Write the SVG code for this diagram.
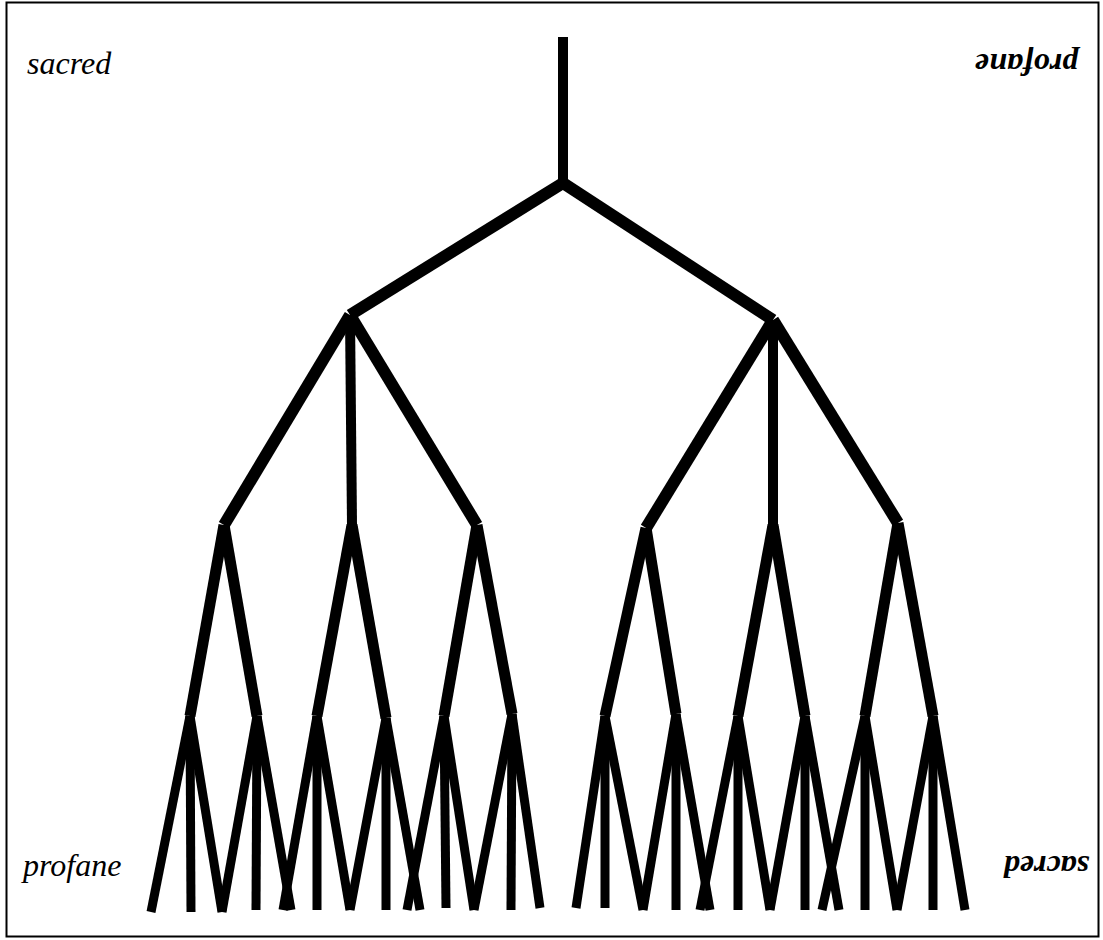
<svg xmlns="http://www.w3.org/2000/svg" width="1103" height="940" viewBox="0 0 1103 940">
<style>
.l{stroke:#000;stroke-linecap:butt;fill:none}
.w10{stroke-width:10}
.w12{stroke-width:12}
.w11{stroke-width:11}
.t4{stroke-width:9}
.lab{font-family:"Liberation Serif","Times New Roman",serif;font-style:italic;font-size:32px;fill:#000}
</style>
<rect x="6.5" y="2.5" width="1092" height="934" fill="#fff" stroke="#000" stroke-width="2"/>
<g id="label-sacred-tl"><text class="lab" x="27" y="74">sacred</text></g>
<g id="label-profane-tr"><text class="lab" font-weight="bold" transform="translate(1078,54) rotate(180)" x="0" y="0">profane</text></g>
<g id="label-profane-bl"><text class="lab" x="23" y="876">profane</text></g>
<g id="label-sacred-br"><text class="lab" font-weight="bold" transform="translate(1089,856) rotate(180)" x="0" y="0">sacred</text></g>
<g id="connectors">
<g class="l w10">
<line x1="563" y1="37" x2="563" y2="183"/>
<line x1="350" y1="315" x2="352" y2="525"/>
<line x1="773" y1="320" x2="773" y2="525"/>
</g>
<g class="l w12">
<line x1="563" y1="183" x2="350" y2="315"/>
<line x1="563" y1="183" x2="773" y2="320"/>
<line x1="350" y1="315" x2="224" y2="525"/>
<line x1="350" y1="315" x2="477" y2="525"/>
<line x1="773" y1="320" x2="646" y2="528"/>
<line x1="773" y1="320" x2="898" y2="523"/>
</g>
<g class="l w11">
<line x1="224" y1="525" x2="190" y2="716"/>
<line x1="224" y1="525" x2="257" y2="716"/>
<line x1="352" y1="525" x2="317" y2="716"/>
<line x1="352" y1="525" x2="386" y2="718"/>
<line x1="477" y1="525" x2="444" y2="716"/>
<line x1="477" y1="525" x2="512" y2="714"/>
<line x1="646" y1="528" x2="605" y2="716"/>
<line x1="646" y1="528" x2="676" y2="714"/>
<line x1="773" y1="525" x2="738" y2="716"/>
<line x1="773" y1="525" x2="805" y2="716"/>
<line x1="898" y1="523" x2="865" y2="716"/>
<line x1="898" y1="523" x2="933" y2="716"/>
</g>
<g class="l t4">
<line x1="190" y1="716" x2="151" y2="912"/><line x1="190" y1="716" x2="191" y2="912"/><line x1="190" y1="716" x2="222" y2="912"/>
<line x1="257" y1="716" x2="222" y2="912"/><line x1="257" y1="716" x2="256" y2="910"/><line x1="257" y1="716" x2="291" y2="910"/>
<line x1="317" y1="716" x2="283" y2="910"/><line x1="317" y1="716" x2="317" y2="910"/><line x1="317" y1="716" x2="350" y2="910"/>
<line x1="386" y1="718" x2="350" y2="910"/><line x1="386" y1="718" x2="386" y2="910"/><line x1="386" y1="718" x2="420" y2="910"/>
<line x1="444" y1="716" x2="407" y2="910"/><line x1="444" y1="716" x2="446" y2="908"/><line x1="444" y1="716" x2="474" y2="910"/>
<line x1="512" y1="714" x2="474" y2="910"/><line x1="512" y1="714" x2="511" y2="910"/><line x1="512" y1="714" x2="540" y2="908"/>
<line x1="605" y1="716" x2="576" y2="908"/><line x1="605" y1="716" x2="605" y2="908"/><line x1="605" y1="716" x2="643" y2="910"/>
<line x1="676" y1="714" x2="643" y2="910"/><line x1="676" y1="714" x2="676" y2="910"/><line x1="676" y1="714" x2="710" y2="910"/>
<line x1="738" y1="716" x2="700" y2="910"/><line x1="738" y1="716" x2="738" y2="910"/><line x1="738" y1="716" x2="770" y2="910"/>
<line x1="805" y1="716" x2="770" y2="910"/><line x1="805" y1="716" x2="805" y2="910"/><line x1="805" y1="716" x2="839" y2="910"/>
<line x1="865" y1="716" x2="822" y2="910"/><line x1="865" y1="716" x2="865" y2="910"/><line x1="865" y1="716" x2="897" y2="910"/>
<line x1="933" y1="716" x2="897" y2="910"/><line x1="933" y1="716" x2="933" y2="910"/><line x1="933" y1="716" x2="965" y2="910"/>
</g>
</g>
</svg>
